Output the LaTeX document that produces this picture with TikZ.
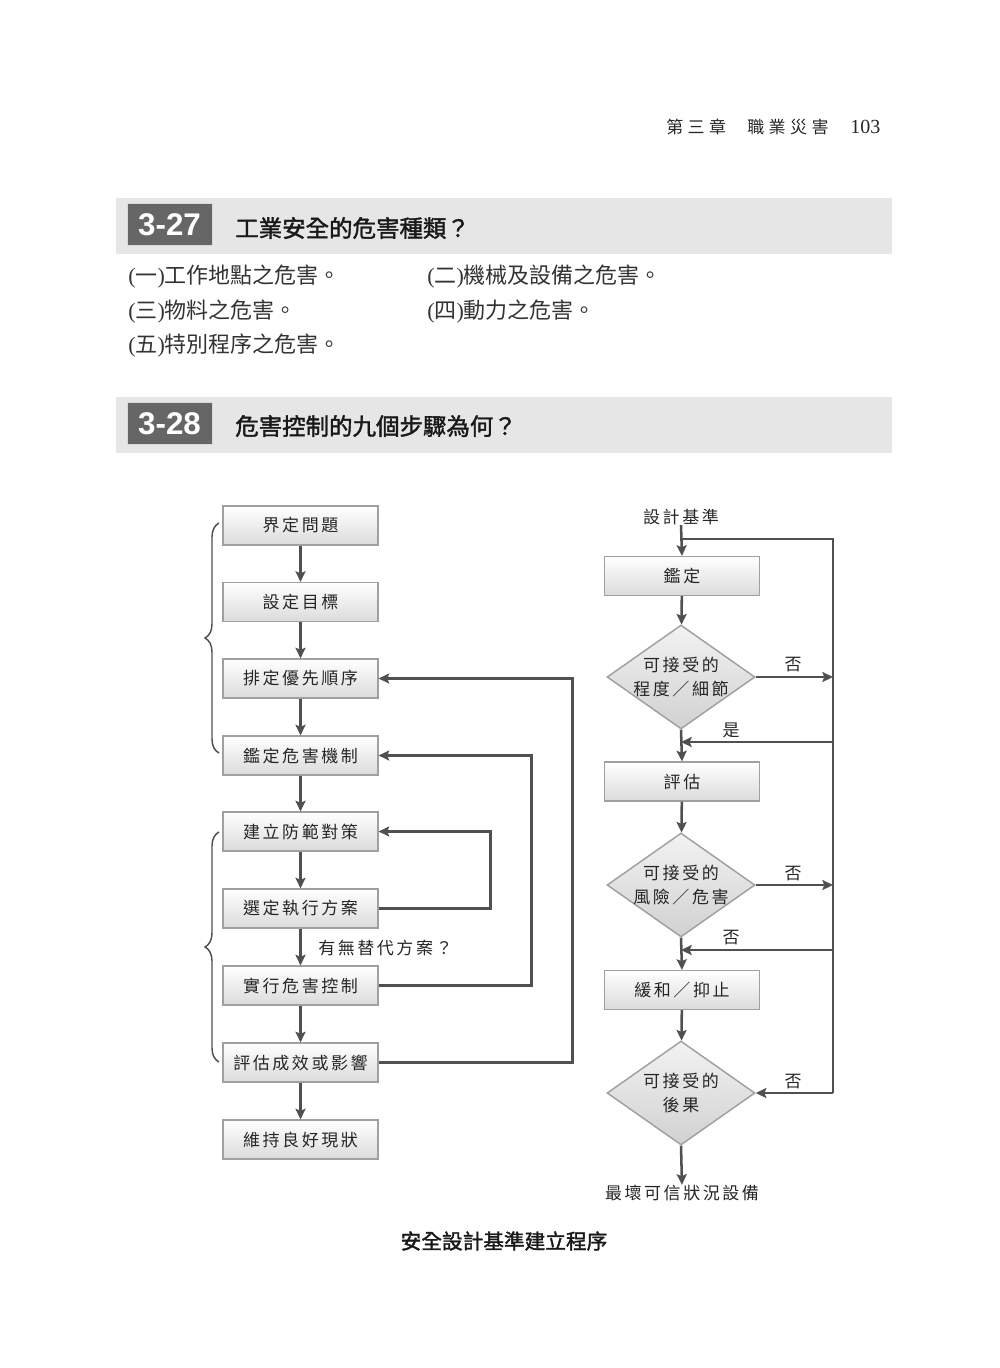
\documentclass[tikz,border=0pt]{standalone}
\usepackage{fontspec}
\setmainfont{Liberation Serif}
\newfontfamily\cjk{Noto Sans CJK TC}
\newfontfamily\cjkmed[FakeBold=1.6]{Noto Sans CJK TC}
\newfontfamily\cjksp[LetterSpace=15]{Noto Sans CJK TC}
\newfontfamily\cjkhd[LetterSpace=26]{Noto Sans CJK TC}
\newfontfamily\numfont{Liberation Sans}
\usetikzlibrary{shapes.geometric,arrows.meta,decorations.pathreplacing}
\definecolor{lnc}{HTML}{505050}
\definecolor{bdc}{HTML}{A0A0A0}
\definecolor{barc}{HTML}{E6E6E6}
\definecolor{darkc}{HTML}{666666}
\tikzset{
  stepbox/.style={draw=bdc,line width=1.1pt,top color=white,bottom color=black!14,
    minimum width=116pt,minimum height=29pt,inner sep=0pt,font=\cjksp\fontsize{12.75pt}{13pt}\selectfont,text=black!85},
  dia/.style={shape=diamond,draw=bdc,line width=1.1pt,top color=black!5,bottom color=black!18,
    minimum width=111pt,minimum height=78pt,inner sep=0pt},
  diatext/.style={align=center,font=\cjksp\fontsize{12.75pt}{18pt}\selectfont,text=black!85},
  lbl/.style={font=\cjksp\fontsize{12.75pt}{13pt}\selectfont,text=black!85,inner sep=0pt},
  conn/.style={draw=lnc,line width=1.9pt},
  arr/.style={conn,-{Stealth[length=8pt,width=7.5pt,inset=1.5pt]}},
  bracestyle/.style={draw=lnc,line width=1.1pt,decorate,decoration={brace,amplitude=10.5pt}},
  secbar/.style={fill=barc,draw=none},
  secnum/.style={fill=darkc,draw=white!85!black,line width=0.6pt,minimum width=63.75pt,minimum height=32pt,inner sep=0pt,
    text=white,font=\numfont\bfseries\fontsize{23.5pt}{24pt}\selectfont},
  sectitle/.style={anchor=west,inner sep=0pt,font=\cjkmed\fontsize{17.6pt}{20pt}\selectfont,text=black!90},
  item/.style={anchor=west,inner sep=0pt,font=\fontsize{16.5pt}{19pt}\selectfont,text=black!80},
  hdrtext/.style={anchor=west,inner sep=0pt,text=black!85,font=\cjkhd\fontsize{12.75pt}{14pt}\selectfont},
}
\newcommand{\cj}[1]{{\cjk #1}}
\begin{document}
\begin{tikzpicture}[x=0.75pt,y=-0.75pt]
\useasboundingbox (0,0) rectangle (1000,1368);
\fill[white] (0,0) rectangle (1000,1368);

% running header
\node[hdrtext] (h1) at (666,127) {第三章};
\node[hdrtext] (h2) at (747,127) {職業災害};
\node[hdrtext,font=\rmfamily\fontsize{15pt}{16pt}\selectfont] (h3) at (850,127) {103};

% section 3-27
\fill[secbar] (116,198) rectangle (892,254);
\node[secnum] (n27) at (169.5,224.5) {3-27};
\node[sectitle] (t27) at (235,228) {工業安全的危害種類？};
\node[item] (i1) at (128,277) {(\cj{一})\cj{工作地點之危害。}};
\node[item] (i2) at (427,277) {(\cj{二})\cj{機械及設備之危害。}};
\node[item] (i3) at (128,312) {(\cj{三})\cj{物料之危害。}};
\node[item] (i4) at (427,312) {(\cj{四})\cj{動力之危害。}};
\node[item] (i5) at (128,346) {(\cj{五})\cj{特別程序之危害。}};

% section 3-28
\fill[secbar] (116,397) rectangle (892,453);
\node[secnum] (n28) at (169.5,423.5) {3-28};
\node[sectitle] (t28) at (235,426) {危害控制的九個步驟為何？};

% left column
\node[stepbox] (b1) at (300.5,525.5) {界定問題};
\node[stepbox] (b2) at (300.5,602) {設定目標};
\node[stepbox] (b3) at (300.5,678.5) {排定優先順序};
\node[stepbox] (b4) at (300.5,755.5) {鑑定危害機制};
\node[stepbox] (b5) at (300.5,831.5) {建立防範對策};
\node[stepbox] (b6) at (300.5,908.5) {選定執行方案};
\node[stepbox] (b7) at (300.5,985.5) {實行危害控制};
\node[stepbox] (b8) at (300.5,1062.5) {評估成效或影響};
\node[stepbox] (b9) at (300.5,1139.5) {維持良好現狀};

\foreach \a/\b in {b1/b2,b2/b3,b3/b4,b4/b5,b5/b6,b6/b7,b7/b8,b8/b9}
  \draw[arr] (\a) -- (\b);

\draw[arr] (b8.east) -- ++(194,0) |- (b3.east);
\draw[arr] (b7.east) -- ++(153,0) |- (b4.east);
\draw[arr] (b6.east) -- ++(112,0) |- (b5.east);
\node[lbl,anchor=west] (alt) at (318,948) {有無替代方案？};

\draw[bracestyle] (219,753) -- (219,523);
\draw[bracestyle] (219,1062) -- (219,832);

% right column
\node[lbl] (s0) at (681,517) {設計基準};
\node[stepbox] (r1) at (682,576) {鑑定};
\node[dia] (d1) at (681,677) {};
\node[diatext] at (d1) {可接受的\\程度／細節};
\node[stepbox] (r2) at (682,781.5) {評估};
\node[dia] (d2) at (681,885) {};
\node[diatext] at (d2) {可接受的\\風險／危害};
\node[stepbox] (r3) at (682,990) {緩和／抑止};
\node[dia] (d3) at (681,1093) {};
\node[diatext] at (d3) {可接受的\\後果};
\node[lbl] (s1) at (682,1193) {最壞可信狀況設備};

\coordinate (j0) at (681,539);
\coordinate (bt) at (833,539);
\coordinate (bb) at (833,1093);
\coordinate (m1) at (681,742);
\coordinate (m2) at (681,950);

\draw[arr] (s0.south) -- (r1.north);
\draw[conn] (j0) -- (bt) -- (bb);
\draw[arr] (r1) -- (d1);
\draw[arr] (d1.south) -- (r2.north);
\draw[arr] (r2) -- (d2);
\draw[arr] (d2.south) -- (r3.north);
\draw[arr] (r3) -- (d3);
\draw[arr] (d3.south) -- (s1.north);

\draw[arr] (d1.east) -- (833,677);
\draw[arr] (833,742) -- (m1);
\draw[arr] (d2.east) -- (833,885);
\draw[arr] (833,950) -- (m2);
\draw[arr] (bb) -- (d3.east);

\node[lbl] (no1) at (793,665) {否};
\node[lbl] (yes1) at (731,730) {是};
\node[lbl] (no2) at (793,874) {否};
\node[lbl] (no3) at (731,938) {否};
\node[lbl] (no4) at (793,1082) {否};

% caption
\node[inner sep=0pt,font=\cjkmed\fontsize{15.5pt}{17pt}\selectfont,text=black!90] (cap) at (504,1241) {安全設計基準建立程序};
\end{tikzpicture}
\end{document}
